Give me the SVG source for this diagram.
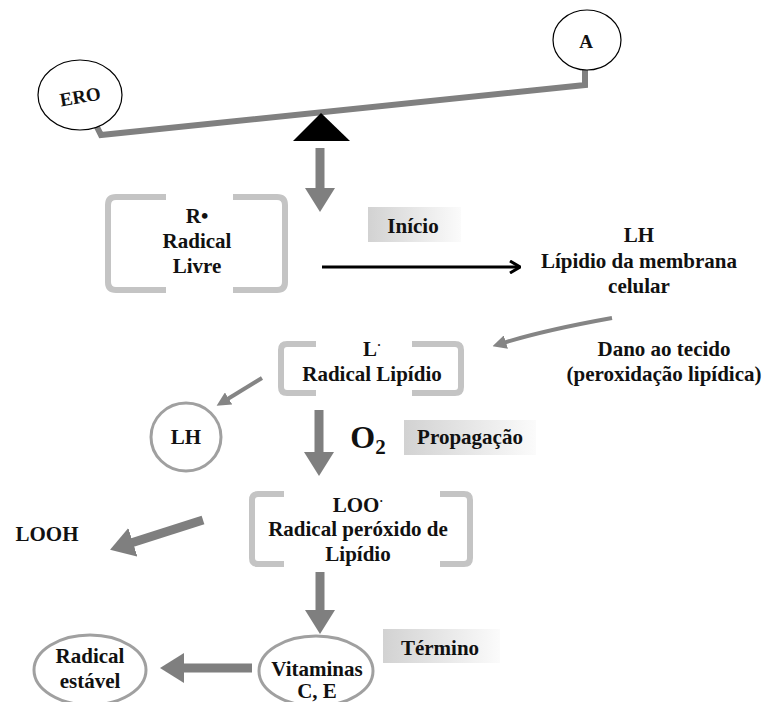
<svg xmlns="http://www.w3.org/2000/svg" width="766" height="702" viewBox="0 0 766 702">
<defs>
<style>
text{font-family:"Liberation Serif","Times New Roman",serif;font-weight:bold;font-size:21px;fill:#111;text-anchor:middle}
.brk{fill:none;stroke:#c4c4c4;stroke-width:6;stroke-linecap:butt}
.heavy{stroke:#7f7f7f;stroke-width:9;fill:none}
.thin{stroke:#858585;stroke-width:4;fill:none}
.ring{fill:#fff;stroke:#a0a0a0;stroke-width:3}
.bal{fill:#fff;stroke:#000;stroke-width:1.2}
.beam{stroke:#808080;stroke-width:6;fill:none;stroke-linejoin:miter}
</style>
<marker id="hh" markerUnits="userSpaceOnUse" viewBox="0 0 24 30" refX="2" refY="15" markerWidth="24" markerHeight="30" orient="auto">
<path d="M0,0 L24,15 L0,30 Z" fill="#7f7f7f"/>
</marker>
<marker id="th" markerUnits="userSpaceOnUse" viewBox="0 0 14 14" refX="3" refY="7" markerWidth="14" markerHeight="14" orient="auto">
<path d="M0,0 L14,7 L0,14 Z" fill="#858585"/>
</marker>
<marker id="bh" markerUnits="userSpaceOnUse" viewBox="0 0 12 14" refX="11" refY="7" markerWidth="12" markerHeight="14" orient="auto">
<path d="M1,1 L11,7 L1,13" fill="none" stroke="#000" stroke-width="3"/>
</marker>
<linearGradient id="gb" x1="0" y1="0" x2="1" y2="0">
<stop offset="0" stop-color="#d2d2d2"/>
<stop offset="1" stop-color="#fbfbfb"/>
</linearGradient>
</defs>
<rect width="766" height="702" fill="#fff"/>

<g id="balance">
<path class="beam" d="M92,117 L101,135 L585,85 L585,70"/>
<polygon points="321,113 293,141 350,141" fill="#000"/>
</g>
<g id="ero">
<ellipse class="bal" cx="80" cy="95" rx="42" ry="35"/>
<text x="80" y="103" transform="rotate(-10 80 96)" style="font-size:19px">ERO</text>
</g>
<g id="a">
<ellipse class="bal" cx="587" cy="40" rx="34" ry="30"/>
<text x="586" y="48" style="font-size:19px">A</text>
</g>

<g id="connectors">
<line class="heavy" x1="320" y1="148" x2="320" y2="190" marker-end="url(#hh)"/>
<line x1="322" y1="267" x2="520" y2="267" stroke="#000" stroke-width="3" marker-end="url(#bh)"/>
<path class="thin" d="M612,318 Q545,330 503,343" marker-end="url(#th)"/>
<line class="thin" x1="262" y1="378" x2="226" y2="400" marker-end="url(#th)"/>
<line class="heavy" x1="319" y1="410" x2="319" y2="454" marker-end="url(#hh)"/>
<line class="heavy" x1="203" y1="520" x2="131" y2="543" marker-end="url(#hh)"/>
<line class="heavy" x1="320" y1="572" x2="320" y2="612" marker-end="url(#hh)"/>
<line class="heavy" x1="252" y1="668" x2="182" y2="668" marker-end="url(#hh)"/>
</g>

<g id="radical-livre">
<path class="brk" d="M166,197 L116,197 Q108,197 108,205 L108,282 Q108,290 116,290 L166,290"/>
<path class="brk" d="M233,197 L277,197 Q285,197 285,205 L285,282 Q285,290 277,290 L233,290"/>
<text x="197" y="223">R•</text>
<text x="197" y="248">Radical</text>
<text x="197" y="273">Livre</text>
</g>

<g id="inicio">
<rect x="368" y="207" width="93" height="35" fill="url(#gb)"/>
<text x="413" y="233">Início</text>
</g>

<g id="lh-membrana">
<text x="639" y="242">LH</text>
<text x="639" y="268">Lípidio da membrana</text>
<text x="639" y="293">celular</text>
</g>

<g id="dano">
<text x="664" y="356">Dano ao tecido</text>
<text x="664" y="381">(peroxidação lipídica)</text>
</g>

<g id="radical-lipidio">
<path class="brk" d="M316,344 L287,344 Q281,344 281,350 L281,387 Q281,393 287,393 L316,393"/>
<path class="brk" d="M412,344 L455,344 Q461,344 461,350 L461,387 Q461,393 455,393 L412,393"/>
<text x="372" y="356">L<tspan font-size="12" dy="-7">·</tspan></text>
<text x="372" y="381">Radical Lipídio</text>
</g>

<g id="lh">
<ellipse class="ring" cx="186" cy="437" rx="35" ry="34"/>
<text x="186" y="444">LH</text>
</g>

<g id="propagacao">
<text x="368" y="448" style="font-size:32px">O<tspan font-size="21" dy="6">2</tspan></text>
<rect x="404" y="420" width="132" height="35" fill="url(#gb)"/>
<text x="470" y="444">Propagação</text>
</g>

<g id="radical-peroxido">
<path class="brk" d="M284,494 L258,494 Q252,494 252,500 L252,558 Q252,564 258,564 L284,564"/>
<path class="brk" d="M440,494 L464,494 Q470,494 470,500 L470,558 Q470,564 464,564 L440,564"/>
<text x="358" y="512">LOO<tspan font-size="12" dy="-7">·</tspan></text>
<text x="358" y="536">Radical peróxido de</text>
<text x="358" y="561">Lipídio</text>
</g>

<g id="looh">
<text x="47" y="541">LOOH</text>
</g>

<g id="vitaminas">
<ellipse class="ring" cx="316" cy="671" rx="57" ry="35"/>
<text x="317" y="676">Vitaminas</text>
<text x="317" y="698">C, E</text>
</g>

<g id="termino">
<rect x="383" y="629" width="117" height="34" fill="url(#gb)"/>
<text x="440" y="655">Término</text>
</g>

<g id="radical-estavel">
<ellipse class="ring" cx="90" cy="670" rx="56" ry="35"/>
<text x="90" y="663">Radical</text>
<text x="90" y="688">estável</text>
</g>
</svg>
